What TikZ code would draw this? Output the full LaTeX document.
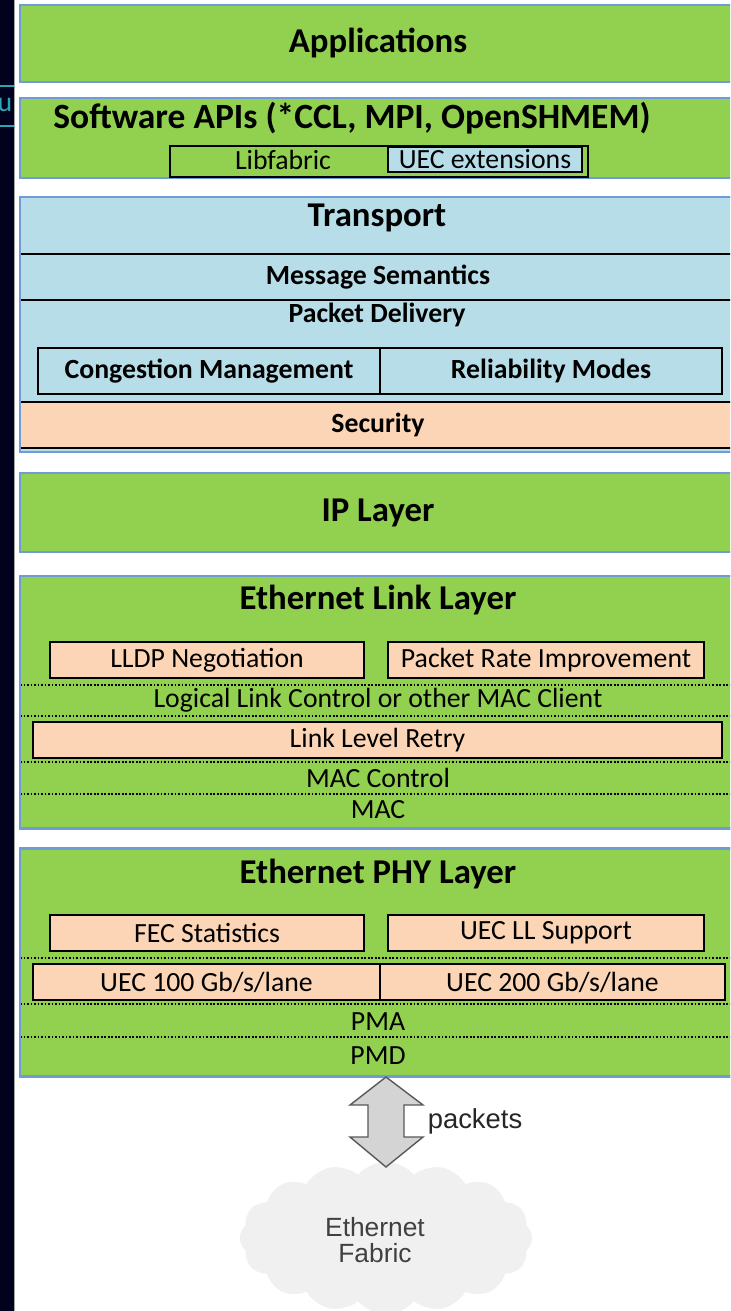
\documentclass[tikz,border=0pt]{standalone}
\usepackage{fontspec}
\setmainfont{Carlito}
\newfontfamily\arialfont{Liberation Sans}
\usepackage{tikz}
\usetikzlibrary{fit}
\usetikzlibrary{shapes.symbols}

\definecolor{layergreen}{HTML}{92D050}
\definecolor{layerblue}{HTML}{B7DEE8}
\definecolor{peach}{HTML}{FBD5B5}
\definecolor{rimblue}{HTML}{6F9BD6}
\definecolor{sidenavy}{HTML}{02021E}
\definecolor{linkteal}{HTML}{2AA7B5}

\tikzset{
  titletext/.style={font=\fontsize{19.8}{22}\selectfont\bfseries},
  labeltext/.style={font=\fontsize{15.8}{18}\selectfont\bfseries},
  plaintext/.style={font=\fontsize{15.8}{18}\selectfont},
  layer/.style={draw=rimblue, line width=1.7pt, fill=layergreen, inner sep=0pt, outer sep=0pt},
  rim/.style={draw=rimblue, line width=1.7pt},
  band/.style={draw=black, line width=0.8pt, inner sep=0pt, outer sep=0pt},
  peachbox/.style={band, fill=peach},
  sublayer/.style={black, line width=0.9pt, dash pattern=on 1pt off 1pt},
  updown/.style={draw=black!65, line width=0.8pt, fill=black!17, line join=miter},
}

\begin{document}
\begin{tikzpicture}[x=0.02cm, y=-0.02cm]
  \useasboundingbox (0,0) rectangle (730,1311);
  \clip (0,0) rectangle (730,1311);
  \fill[white] (0,0) rectangle (730,1311);
  \fill[sidenavy] (0,0) rectangle (14,1311);
  \draw[gray!70, line width=0.6pt] (14.5,0) -- (14.5,1311);
  \draw[linkteal, line width=0.6pt] (0,86) -- (14,86) (0,126) -- (14,126);
  \node[plaintext, text=linkteal, inner sep=0pt] (cutlink) at (5,105) {u};

  \node[layer, fit={(20,5) (736,82)}, label={[titletext]center:Applications}] (apps) {};

  \node[layer, fit={(20,98) (736,178)}] (apis) {};
  \node[titletext, font=\fontsize{20.2}{22}\selectfont\bfseries] (apititle) at (352,118) {Software APIs (*CCL, MPI, OpenSHMEM)};
  \node[band, fit={(170,146) (588,177)}] (libfabric) {};
  \node[plaintext] (libtext) at (283,160) {Libfabric};
  \node[band, fill=layerblue, fit={(388,147) (582,172)}, label={[plaintext]center:UEC extensions}] (uecext) {};

  \node[layer, fill=layerblue, fit={(20,197) (736,452)}] (transport) {};
  \node[titletext] (transtitle) at (377,218) {Transport};
  \node[band, fit={(20,254) (736,300)}, label={[labeltext]center:Message Semantics}] (msgsem) {};
  \node[labeltext] (pktdel) at (377,315) {Packet Delivery};
  \node[band, fit={(38,348) (380,394)}, label={[labeltext]center:Congestion Management}] (congmgmt) {};
  \node[band, fit={(380,348) (722,394)}, label={[labeltext]center:Reliability Modes}] (relmodes) {};
  \node[peachbox, fit={(20,402) (736,448)}, label={[labeltext]center:Security}] (security) {};
  \draw[rim] (transport.south west) rectangle (transport.north east);

  \node[layer, fit={(20,473) (736,552)}, label={[titletext]center:IP Layer}] (ip) {};

  \node[layer, fit={(20,576) (736,828)}] (link) {};
  \node[titletext] (linktitle) at (378,600) {Ethernet Link Layer};
  \node[peachbox, fit={(50,642) (364,678)}, label={[plaintext]center:LLDP Negotiation}] (lldp) {};
  \node[peachbox, fit={(388,642) (704,678)}, label={[plaintext]center:Packet Rate Improvement}] (pktrate) {};
  \draw[sublayer] (20,685) -- (736,685);
  \node[plaintext] (llc) at (378,700) {Logical Link Control or other MAC Client};
  \draw[sublayer] (20,716) -- (736,716);
  \node[peachbox, fit={(33,722) (722,758)}, label={[plaintext]center:Link Level Retry}] (llr) {};
  \draw[sublayer] (20,762) -- (736,762);
  \node[plaintext] (macctl) at (378,778) {MAC Control};
  \draw[sublayer] (20,794) -- (736,794);
  \node[plaintext] (mac) at (378,810) {MAC};
  \draw[rim] (link.south west) rectangle (link.north east);

  \node[layer, fit={(20,848) (736,1076)}] (phy) {};
  \node[titletext] (phytitle) at (378,874) {Ethernet PHY Layer};
  \node[peachbox, fit={(50,915) (364,951)}, label={[plaintext]center:FEC Statistics}] (fec) {};
  \node[peachbox, fit={(388,915) (704,951)}, label={[plaintext]center:UEC LL Support}] (llsupport) {};
  \draw[sublayer] (20,958) -- (736,958);
  \node[peachbox, fit={(33,964) (380,1000)}, label={[plaintext]center:UEC 100 Gb/s/lane}] (lane100) {};
  \node[peachbox, fit={(380,964) (725,1000)}, label={[plaintext]center:UEC 200 Gb/s/lane}] (lane200) {};
  \draw[sublayer] (20,1004) -- (736,1004);
  \node[plaintext] (pma) at (378,1022) {PMA};
  \draw[sublayer] (20,1037) -- (736,1037);
  \node[plaintext] (pmd) at (378,1056) {PMD};
  \draw[rim] (phy.south west) rectangle (phy.north east);

  \node[cloud, cloud puffs=16, cloud puff arc=100, aspect=2, fill=black!6, minimum width=5.85cm, minimum height=3.05cm] (fabric) at (386,1238) {};
  \node[font=\arialfont\fontsize{15}{14.7}\selectfont, text=black!75, align=center] (fabtext) at (375,1240) {Ethernet\\Fabric};

  \draw[updown] (386,1077) -- (423,1105) -- (404,1105) -- (404,1137) -- (423,1137) -- (386,1167) -- (350,1137) -- (368,1137) -- (368,1105) -- (350,1105) -- cycle;
  \node[font=\arialfont\fontsize{15.6}{18}\selectfont, text=black!85] (packets) at (475,1121) {packets};
\end{tikzpicture}
\end{document}
